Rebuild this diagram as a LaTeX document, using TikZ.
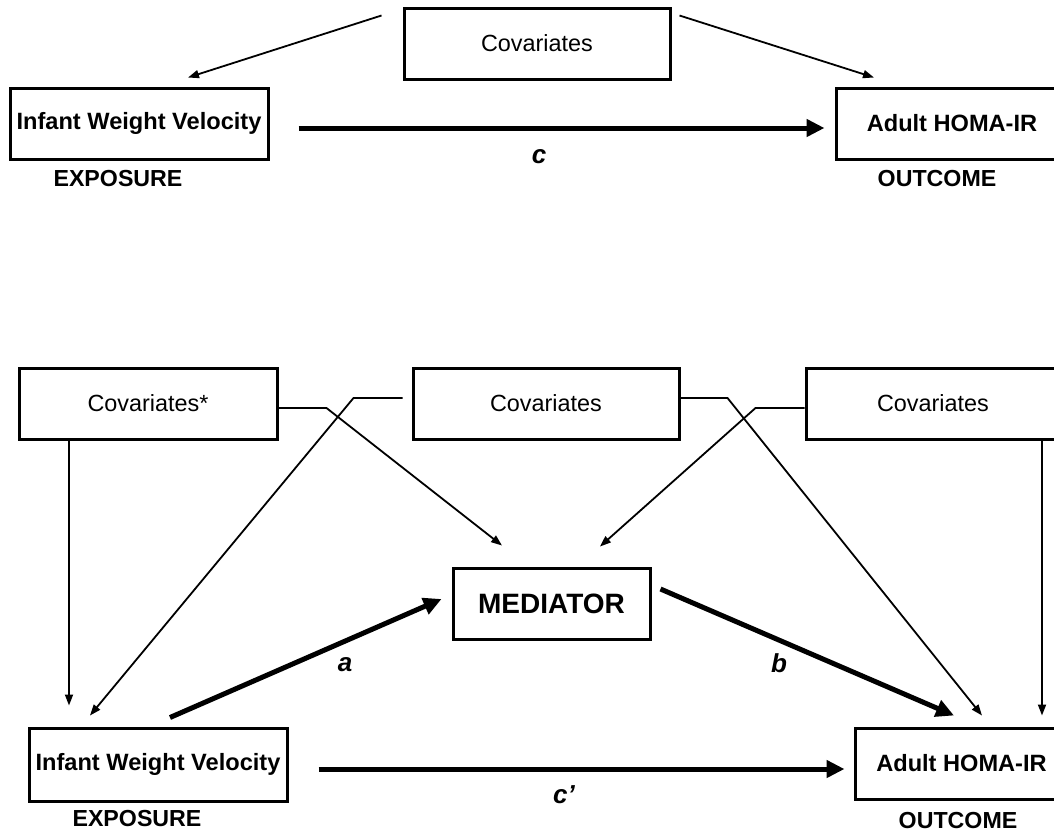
\documentclass[tikz,border=0pt]{standalone}
\usepackage{fontspec}
\setmainfont{Liberation Sans}
\usetikzlibrary{arrows.meta}

\begin{document}
\begin{tikzpicture}[x=0.5pt, y=-0.5pt,
    box/.style={draw, line width=1.5pt, inner sep=0pt, minimum height=35.5pt},
    covbox/.style={box, font=\fontsize{11.7}{14}\selectfont},
    varbox/.style={box, font=\fontsize{11.8}{14}\selectfont\bfseries},
    role/.style={font=\fontsize{11.6}{14}\selectfont\bfseries},
    coef/.style={font=\fontsize{13}{14}\selectfont\bfseries\itshape},
    thin arrow/.style={line width=0.9pt, -{Triangle[length=5.5pt,width=4pt]}},
    thick arrow/.style={line width=2.5pt, -{Triangle[length=9pt,width=8.5pt]}}]
    \useasboundingbox (0,0) rectangle (1054,831);
    \clip (0,0) rectangle (1054,831);

    % total effect
    \node[covbox, minimum width=133pt] (covT) at (537,43.5) {Covariates};
    \node[varbox, minimum width=129pt] (expT) at (139,123.5) {Infant Weight Velocity};
    \node[varbox, minimum width=116pt] (outT) at (952,123.5) {Adult HOMA-IR};
    \node[role] (expTlab) at (118,179) {EXPOSURE};
    \node[role] (outTlab) at (937,179) {OUTCOME};
    \node[coef] (c) at (539,157) {c};
    \draw[thick arrow, shorten <=14.5pt, shorten >=5pt]
        ([yshift=-2.25pt]expT.east) -- ([yshift=-2.25pt]outT.west);
    \draw[thin arrow]
        ([xshift=-10.5pt,yshift=-4.5pt]covT.north west) -- ([xshift=24.5pt,yshift=4.5pt]expT.north);
    \draw[thin arrow]
        ([xshift=4pt,yshift=-4.5pt]covT.north east) -- ([xshift=-39pt,yshift=4.5pt]outT.north);

    % mediation
    \node[covbox, minimum width=129pt] (covL) at (148,403.5) {Covariates*};
    \node[covbox, minimum width=133pt] (covM) at (546,403.5) {Covariates};
    \node[covbox, minimum width=127pt] (covR) at (933,403.5) {Covariates};
    \node[box, font=\fontsize{14}{16}\selectfont\bfseries, minimum width=98.5pt] (med) at (551.5,603.5) {MEDIATOR};
    \node[varbox, minimum width=129pt, minimum height=36.5pt] (expB) at (158,764.5) {Infant Weight Velocity};
    \node[varbox, minimum width=106.5pt] (outB) at (961.5,763.5) {Adult HOMA-IR};
    \node[role] (expBlab) at (137,818) {EXPOSURE};
    \node[role] (outBlab) at (958,820) {OUTCOME};
    \node[coef] (a) at (345,665) {a};
    \node[coef] (b) at (779,663) {b};
    \node[coef] (cp) at (564,795) {c’};

    \coordinate (covLfoot) at ([xshift=-39.5pt]covL.south);
    \coordinate (covRfoot) at ([xshift=54.5pt]covR.south);
    \draw[thin arrow, shorten >=10.5pt] (covLfoot) -- (covLfoot |- expB.north);
    \draw[thin arrow, shorten >=5.5pt] (covRfoot) -- (covRfoot |- outB.north);
    \draw[thin arrow]
        ([yshift=-2.25pt]covL.east) -- ++(24pt,0) -- ([xshift=-24.75pt,yshift=10.5pt]med.north);
    \draw[thin arrow]
        ([xshift=-4.5pt,yshift=2.75pt]covM.west) -- ++(-24.5pt,0) -- ([xshift=-34pt,yshift=5.5pt]expB.north);
    \draw[thin arrow]
        ([yshift=2.75pt]covM.east) -- ++(23.5pt,0) -- ([xshift=10.25pt,yshift=5.5pt]outB.north);
    \draw[thin arrow]
        ([yshift=-2.25pt]covR.west) -- ++(-24.5pt,0) -- ([xshift=24.25pt,yshift=10pt]med.north);

    \draw[thick arrow]
        ([xshift=6pt,yshift=4.5pt]expB.north) -- ([xshift=-5pt,yshift=2.25pt]med.west);
    \draw[thick arrow]
        ([xshift=4.5pt,yshift=7.25pt]med.east) -- ([xshift=-3.75pt,yshift=5.5pt]outB.north);
    \draw[thick arrow]
        ([xshift=15pt,yshift=-2.25pt]expB.east) -- ([xshift=-4.5pt,yshift=-2.75pt]outB.west);
\end{tikzpicture}
\end{document}
